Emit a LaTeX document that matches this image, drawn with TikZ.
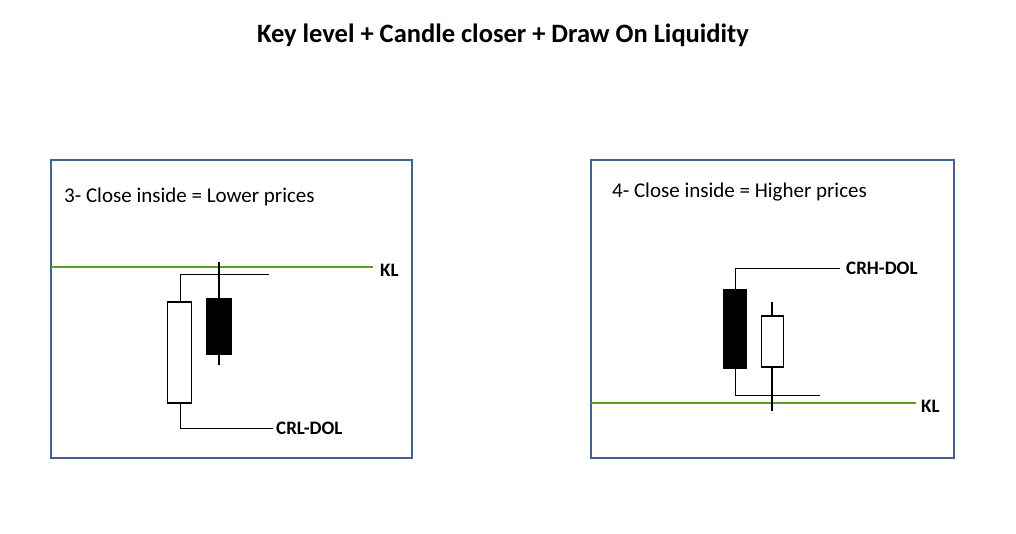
\documentclass[tikz,border=0pt]{standalone}
\usepackage{fontspec}
\setmainfont{Carlito}
\begin{document}
\begin{tikzpicture}[x=1pt,y=-1pt,
 panel/.style={draw={rgb,255:red,65;green,100;blue,140},line width=1.5pt},
 kl/.style={draw={rgb,255:red,90;green,160;blue,40},line width=1.1pt},
 wick/.style={draw=black,line width=1.5pt},
 conn/.style={draw=black,line width=1pt},
 body/.style={draw=black,line width=1.6pt},
 lbl/.style={font=\bfseries\fontsize{19}{21}\selectfont,anchor=west,inner sep=0pt},
 captext/.style={font=\fontsize{21}{24}\selectfont,anchor=west,inner sep=0pt}]
\useasboundingbox (0,0) rectangle (1016,533);
\node[font=\bfseries\fontsize{26.5}{30}\selectfont] (title) at (503,35) {Key level + Candle closer + Draw On Liquidity};
% left panel
\node[panel,minimum width=361pt,minimum height=298pt,inner sep=0pt] (p1) at (231.5,309) {};
\node[captext] (t1) at (64,197) {3- Close inside = Lower prices};
\coordinate (kl1a) at (51,267); \coordinate (kl1b) at (373,267);
\draw[kl] (kl1a) -- (kl1b);
\node[lbl] (kl1) at (380,270) {KL};
\coordinate (w1t) at (180,274); \coordinate (w1te) at (269,274);
\coordinate (w1b) at (180,428); \coordinate (w1be) at (273,428);
\draw[conn] (180,302) -- (w1t) -- (w1te);
\draw[conn] (180,403) -- (w1b) -- (w1be);
\node[body,fill=white,minimum width=24pt,minimum height=101pt,inner sep=0pt] (c1) at (179.5,352.5) {};
\node[lbl] (crl) at (276,428) {CRL-DOL};
\draw[wick] (219,262) -- (219,365);
\node[body,fill=black,minimum width=25pt,minimum height=55pt,inner sep=0pt] (c2) at (219,326.5) {};
% right panel
\node[panel,minimum width=363pt,minimum height=298pt,inner sep=0pt] (p2) at (772.5,309) {};
\node[captext] (t2) at (612,192) {4- Close inside = Higher prices};
\coordinate (kl2a) at (591,403); \coordinate (kl2b) at (916,403);
\draw[kl] (kl2a) -- (kl2b);
\node[lbl] (kl2) at (921,406) {KL};
\draw[conn] (735,290) -- (735,268) -- (840,268);
\draw[conn] (735,368) -- (735,395) -- (820,395);
\node[body,fill=black,minimum width=23pt,minimum height=78pt,inner sep=0pt] (c3) at (735,329) {};
\node[lbl] (crh) at (846,268) {CRH-DOL};
\draw[wick] (772,302) -- (772,411);
\node[body,fill=white,minimum width=22pt,minimum height=51pt,inner sep=0pt] (c4) at (772.5,341.5) {};
\end{tikzpicture}
\end{document}
